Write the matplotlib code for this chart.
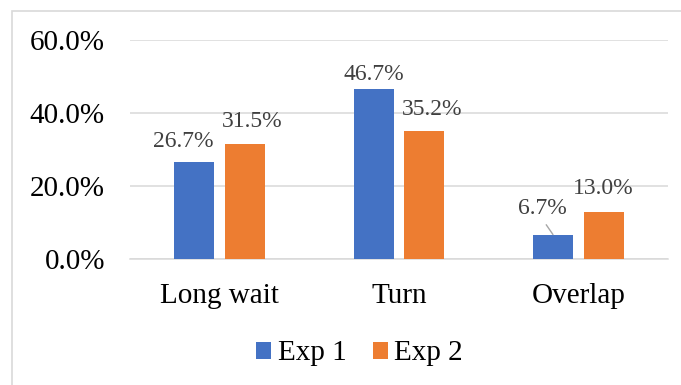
import matplotlib
matplotlib.use("Agg")
import matplotlib.pyplot as plt
from matplotlib.patches import Rectangle
from matplotlib.ticker import FuncFormatter
import numpy as np

categories = ["Long wait", "Turn", "Overlap"]
exp1 = [26.7, 46.7, 6.7]
exp2 = [31.5, 35.2, 13.0]
series_names = ["Exp 1", "Exp 2"]
y_ticks = [0, 20, 40, 60]

BLUE = "#4472C4"
ORANGE = "#ED7D31"
GRID = "#D9D9D9"
LABEL_GRAY = "#404040"

plt.rcParams["font.family"] = ["Liberation Serif", "DejaVu Serif"]

fig = plt.figure(figsize=(6.81, 3.85), dpi=100)
W, H = 681, 385

# light chart-area border (runs off the right and bottom edges)
fig.patches.append(Rectangle((12 / W, -0.1), 1.2, (H - 11) / H + 0.1,
                             transform=fig.transFigure, fill=False,
                             edgecolor=GRID, linewidth=1.2, zorder=0))

ax = fig.add_axes([130 / W, 1 - 259 / H, (668 - 130) / W, (259 - 40) / H])

x = np.arange(len(categories))
bw = 0.223
off = 0.1415
b1 = ax.bar(x - off, exp1, bw, color=BLUE, zorder=3, label=series_names[0])
b2 = ax.bar(x + off, exp2, bw, color=ORANGE, zorder=3, label=series_names[1])

ax.set_xlim(-0.5, len(categories) - 0.5)
ax.set_ylim(0, 60)
ax.set_yticks(y_ticks)
ax.yaxis.set_major_formatter(FuncFormatter(lambda v, p: f"{v:.1f}%"))
ax.set_xticks(x)
ax.set_xticklabels(categories)

ax.grid(axis="y", color=GRID, linewidth=1.1, zorder=0)
for s in ["top", "right", "left"]:
    ax.spines[s].set_visible(False)
ax.spines["bottom"].set_color(GRID)
ax.spines["bottom"].set_linewidth(1.1)
ax.tick_params(axis="both", length=0, labelsize=21, colors="black")
ax.tick_params(axis="y", pad=18)
ax.tick_params(axis="x", pad=17)

# data labels: (dx px, dy px) offsets from bar top center
offsets1 = [(-11.5, 15), (0, 9), None]
offsets2 = [(7.5, 17), (8, 16), (0, 18)]
LABEL_SIZE = 17

for i, v in enumerate(exp1):
    xc = x[i] - off
    if offsets1[i] is not None:
        dx, dy = offsets1[i]
        ax.annotate(f"{v:.1f}%", (xc, v), xytext=(dx, dy),
                    textcoords="offset pixels", ha="center", va="baseline",
                    fontsize=LABEL_SIZE, color=LABEL_GRAY)
    else:
        ax.annotate(f"{v:.1f}%", (xc, v), xytext=(-11, 21),
                    textcoords="offset pixels", ha="center", va="baseline",
                    fontsize=LABEL_SIZE, color=LABEL_GRAY,
                    arrowprops=dict(arrowstyle="-", color="#A6A6A6",
                                    linewidth=1.0, shrinkA=3, shrinkB=0,
                                    relpos=(0.5, 0.0)))

for i, v in enumerate(exp2):
    xc = x[i] + off
    dx, dy = offsets2[i]
    ax.annotate(f"{v:.1f}%", (xc, v), xytext=(dx, dy),
                textcoords="offset pixels", ha="center", va="baseline",
                fontsize=LABEL_SIZE, color=LABEL_GRAY)

fig.legend(handles=[b1, b2], labels=series_names, loc="center",
           bbox_to_anchor=(0.528, 0.082), ncol=2, frameon=False,
           fontsize=21, handlelength=0.52, handleheight=0.52,
           handletextpad=0.22, columnspacing=0.9, borderpad=0)

fig.savefig("out.png", dpi=100)
